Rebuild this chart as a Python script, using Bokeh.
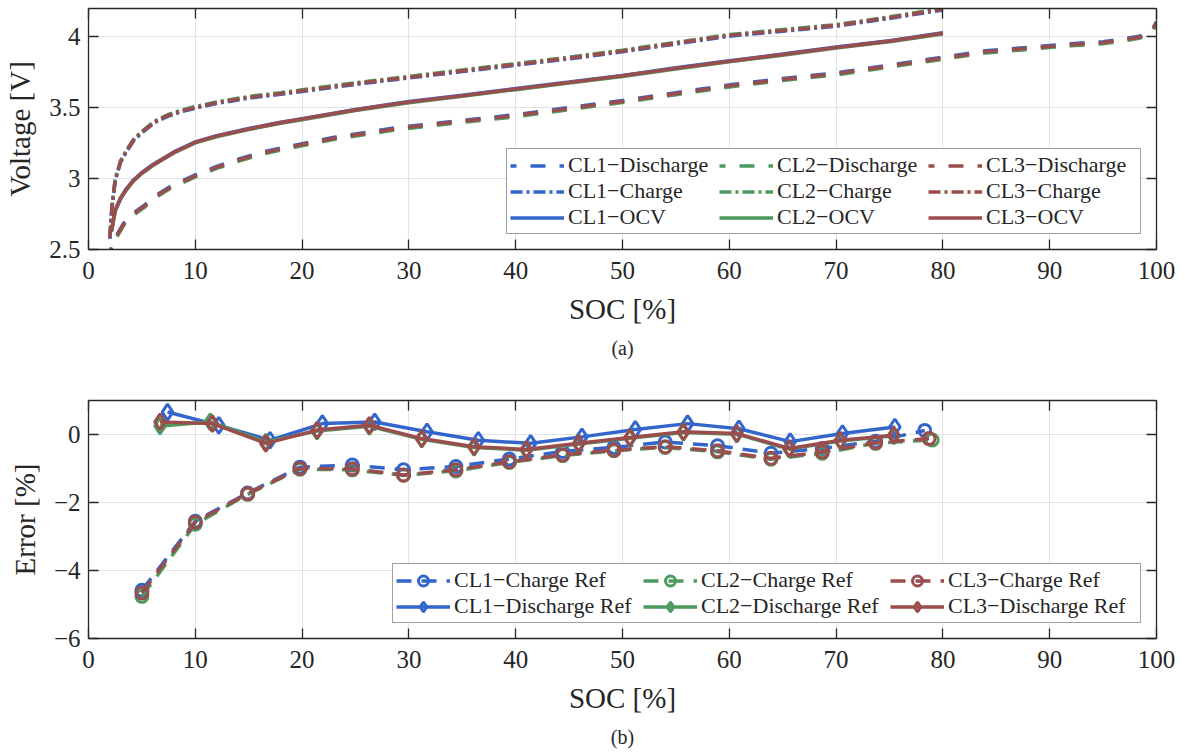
from bokeh.plotting import figure
from bokeh.layouts import column
from bokeh.models import (Range1d, LinearAxis, FixedTicker, CustomJSTickFormatter,
                          Legend, LegendItem, Title)
from bokeh.embed import file_html
from bokeh.resources import INLINE

FONT = "Liberation Serif"
INK = "#262626"
COLORS = {"CL1": "#3366CC", "CL2": "#4E9A5E", "CL3": "#9B4D4D"}
CELLS = ["CL1", "CL2", "CL3"]

# ---------------- (a) voltage curves ----------------
soc_dis = [1.95, 2.6, 3.3, 4.2, 5.3, 6.4, 7.7, 10, 12, 14, 16, 18, 20, 23, 26, 29, 32, 35,
           40, 45, 50, 55, 60, 65, 70, 75, 80, 84, 88, 92, 95, 97, 98.5, 99.3, 99.7, 100]
v_dis = {
    "CL1": [2.476, 2.596, 2.686, 2.756, 2.816, 2.886, 2.946, 3.026, 3.086, 3.136, 3.181, 3.216,
            3.246, 3.291, 3.326, 3.361, 3.386, 3.411, 3.451, 3.501, 3.551, 3.606, 3.661, 3.706,
            3.746, 3.801, 3.856, 3.901, 3.926, 3.951, 3.966, 3.986, 4.006, 4.036, 4.066, 4.106],
    "CL2": [2.462, 2.582, 2.672, 2.742, 2.802, 2.872, 2.932, 3.012, 3.072, 3.122, 3.167, 3.202,
            3.232, 3.277, 3.312, 3.347, 3.372, 3.397, 3.437, 3.487, 3.537, 3.592, 3.647, 3.692,
            3.732, 3.787, 3.842, 3.887, 3.912, 3.937, 3.952, 3.972, 3.992, 4.022, 4.052, 4.092],
    "CL3": [2.47, 2.59, 2.68, 2.75, 2.81, 2.88, 2.94, 3.02, 3.08, 3.13, 3.175, 3.21,
            3.24, 3.285, 3.32, 3.355, 3.38, 3.405, 3.445, 3.495, 3.545, 3.60, 3.655, 3.70,
            3.74, 3.795, 3.85, 3.895, 3.92, 3.945, 3.96, 3.98, 4.00, 4.03, 4.06, 4.10],
}

soc_chg = [2.0, 2.2, 2.5, 3.0, 3.6, 4.3, 5.2, 6.2, 7.4, 8.7, 10, 12, 15, 18, 20, 25, 30, 35,
           40, 45, 50, 55, 60, 65, 70, 75, 80]
v_chg = {
    "CL1": [2.575, 2.795, 2.985, 3.115, 3.195, 3.275, 3.335, 3.395, 3.439, 3.472, 3.497, 3.530,
            3.568, 3.595, 3.615, 3.665, 3.710, 3.755, 3.800, 3.845, 3.895, 3.950, 4.005, 4.040,
            4.075, 4.130, 4.190],
    "CL2": [2.586, 2.806, 2.996, 3.126, 3.206, 3.286, 3.346, 3.406, 3.450, 3.483, 3.508, 3.541,
            3.579, 3.606, 3.626, 3.676, 3.721, 3.766, 3.811, 3.856, 3.906, 3.961, 4.016, 4.051,
            4.086, 4.141, 4.201],
    "CL3": [2.58, 2.80, 2.99, 3.12, 3.20, 3.28, 3.34, 3.40, 3.444, 3.477, 3.502, 3.535,
            3.573, 3.60, 3.62, 3.67, 3.715, 3.76, 3.805, 3.85, 3.90, 3.955, 4.01, 4.045,
            4.08, 4.135, 4.195],
}

soc_ocv = [2.15, 2.5, 3.0, 3.5, 4.2, 5.0, 6.0, 6.7, 8.0, 10, 12, 15, 18, 20, 25, 30, 35,
           40, 45, 50, 55, 60, 65, 70, 75, 80]
v_ocv = {
    "CL1": [2.633, 2.778, 2.863, 2.923, 2.989, 3.043, 3.098, 3.130, 3.188, 3.259, 3.303, 3.353,
            3.398, 3.423, 3.488, 3.543, 3.588, 3.635, 3.681, 3.728, 3.781, 3.831, 3.878, 3.928,
            3.973, 4.028],
    "CL2": [2.626, 2.771, 2.856, 2.916, 2.982, 3.036, 3.091, 3.123, 3.181, 3.252, 3.296, 3.346,
            3.391, 3.416, 3.481, 3.536, 3.581, 3.628, 3.674, 3.721, 3.774, 3.824, 3.871, 3.921,
            3.966, 4.021],
    "CL3": [2.63, 2.775, 2.86, 2.92, 2.986, 3.04, 3.095, 3.127, 3.185, 3.256, 3.30, 3.35,
            3.395, 3.42, 3.485, 3.54, 3.585, 3.632, 3.678, 3.725, 3.778, 3.828, 3.875, 3.925,
            3.97, 4.025],
}

# ---------------- (b) estimation error ----------------
soc_cref = {
    "CL1": [5.0, 10.0, 14.9, 19.8, 24.7, 29.5, 34.4, 39.4, 44.4, 49.2, 54.0, 58.9, 63.9, 68.7, 73.7, 78.3],
    "CL2": [5.0, 10.0, 14.9, 19.8, 24.7, 29.5, 34.4, 39.4, 44.4, 49.2, 54.0, 58.9, 63.9, 68.7, 73.7, 79.0],
    "CL3": [5.0, 10.0, 14.9, 19.8, 24.7, 29.5, 34.4, 39.4, 44.4, 49.2, 54.0, 58.9, 63.9, 68.7, 73.7, 78.7],
}
err_cref = {
    "CL1": [-4.58, -2.55, -1.72, -0.96, -0.90, -1.04, -0.94, -0.72, -0.50, -0.38, -0.22, -0.33,
            -0.55, -0.41, -0.20, 0.12],
    "CL2": [-4.76, -2.64, -1.76, -1.02, -1.04, -1.20, -1.07, -0.82, -0.62, -0.48, -0.38, -0.51,
            -0.73, -0.55, -0.26, -0.16],
    "CL3": [-4.66, -2.58, -1.74, -1.00, -1.01, -1.19, -1.04, -0.80, -0.60, -0.46, -0.36, -0.48,
            -0.70, -0.51, -0.24, -0.12],
}
soc_dref = {
    "CL1": [7.4, 12.2, 17.0, 21.9, 26.8, 31.7, 36.5, 41.4, 46.2, 51.2, 56.1, 60.9, 65.7, 70.6, 75.5],
    "CL2": [6.7, 11.4, 16.6, 21.4, 26.3, 31.2, 36.1, 41.0, 45.9, 50.7, 55.7, 60.7, 65.6, 70.4, 75.4],
    "CL3": [6.7, 11.6, 16.6, 21.4, 26.3, 31.2, 36.1, 41.0, 45.9, 50.7, 55.7, 60.7, 65.6, 70.4, 75.4],
}
err_dref = {
    "CL1": [0.66, 0.27, -0.17, 0.32, 0.37, 0.08, -0.17, -0.26, -0.07, 0.15, 0.32, 0.17, -0.21, 0.03, 0.22],
    "CL2": [0.25, 0.37, -0.22, 0.10, 0.24, -0.14, -0.38, -0.46, -0.28, -0.11, 0.06, 0.01, -0.43, -0.19, -0.04],
    "CL3": [0.37, 0.32, -0.26, 0.13, 0.27, -0.12, -0.36, -0.44, -0.26, -0.09, 0.08, 0.03, -0.41, -0.17, -0.02],
}

x_ticks = [0, 10, 20, 30, 40, 50, 60, 70, 80, 90, 100]
v_ticks = [2.5, 3, 3.5, 4]
e_ticks = [-6, -4, -2, 0]

num_fmt = CustomJSTickFormatter(code="return String(+tick.toFixed(2)).replace('-', '\\u2212');")


def make_fig(height, y_range, border_top, border_bottom, ylabel, yticks, caption):
    p = figure(width=1185, height=height, x_range=Range1d(0, 100), y_range=y_range,
               output_backend="svg", toolbar_location=None,
               min_border_left=88, min_border_right=29,
               min_border_top=border_top, min_border_bottom=border_bottom,
               background_fill_color="white", border_fill_color="white")
    p.outline_line_color = None
    p.xaxis.ticker = FixedTicker(ticks=x_ticks)
    p.yaxis.ticker = FixedTicker(ticks=yticks)
    p.yaxis.formatter = num_fmt
    p.xaxis.formatter = num_fmt
    p.xgrid.ticker = FixedTicker(ticks=x_ticks)
    p.ygrid.ticker = FixedTicker(ticks=yticks)
    for g in (p.xgrid, p.ygrid):
        g.grid_line_color = "#e3e3e3"
        g.grid_line_width = 1
    p.xaxis.axis_label = "SOC [%]"
    p.yaxis.axis_label = ylabel
    p.xaxis.major_label_standoff = 12
    p.yaxis.major_label_standoff = 8
    p.xaxis.axis_label_standoff = 11
    p.yaxis.axis_label_standoff = 10
    for ax in list(p.xaxis) + list(p.yaxis):
        ax.major_tick_in = 10
        ax.major_tick_out = 0
        ax.minor_tick_in = 0
        ax.minor_tick_out = 0
        ax.axis_line_color = INK
        ax.axis_line_width = 1.3
        ax.major_tick_line_color = INK
        ax.major_tick_line_width = 1.3
        ax.major_label_text_font = FONT
        ax.major_label_text_font_size = "25px"
        ax.major_label_text_color = INK
        ax.axis_label_text_font = FONT
        ax.axis_label_text_font_size = "29px"
        ax.axis_label_text_font_style = "normal"
        ax.axis_label_text_color = INK
    # closed box with inward ticks on the top and right edges
    for side, ticks in (("above", x_ticks), ("right", yticks)):
        ax = LinearAxis(ticker=FixedTicker(ticks=ticks), major_label_text_font_size="0px",
                        major_label_standoff=0, major_tick_in=10, major_tick_out=0,
                        minor_tick_in=0, minor_tick_out=0,
                        axis_line_color=INK, axis_line_width=1.3,
                        major_tick_line_color=INK, major_tick_line_width=1.3)
        p.add_layout(ax, side)
    p.add_layout(Title(text=caption, align="center", text_font=FONT, text_font_size="20px",
                       text_font_style="normal", text_color=INK, standoff=14), "below")
    return p


def style_legend(lg, label_width):
    lg.location = "bottom_right"
    lg.margin = 15
    lg.padding = 3
    lg.spacing = 0
    lg.glyph_width = 54
    lg.glyph_height = 25
    lg.label_height = 25
    lg.label_width = label_width
    lg.label_standoff = 4
    lg.label_text_font = FONT
    lg.label_text_font_size = "22px"
    lg.label_text_color = INK
    lg.border_line_color = "#404040"
    lg.border_line_width = 1.2
    lg.background_fill_color = "white"
    lg.background_fill_alpha = 1.0
    lg.orientation = "vertical"
    lg.ncols = 3


# (a)
p1 = make_fig(390, Range1d(2.5, 4.2), 8, 141, "Voltage [V]", v_ticks, "(a)")
items1 = []
for cell in CELLS:
    c = COLORS[cell]
    r_d = p1.line(soc_dis, v_dis[cell], line_color=c, line_width=3.6, line_dash="15 14",
                  line_dash_offset=9)
    r_c = p1.line(soc_chg, v_chg[cell], line_color=c, line_width=3.6, line_dash="12 4 3 4")
    r_o = p1.line(soc_ocv, v_ocv[cell], line_color=c, line_width=3.6)
    items1 += [LegendItem(label=f"{cell}\u2212Discharge", renderers=[r_d]),
               LegendItem(label=f"{cell}\u2212Charge", renderers=[r_c]),
               LegendItem(label=f"{cell}\u2212OCV", renderers=[r_o])]
lg1 = Legend(items=items1)
style_legend(lg1, 151)
p1.add_layout(lg1, "center")

# (b)
p2 = make_fig(364, Range1d(-6, 1), 10, 114, "Error [%]", e_ticks, "(b)")
items2 = []
for cell in CELLS:
    c = COLORS[cell]
    l_c = p2.line(soc_cref[cell], err_cref[cell], line_color=c, line_width=3.5, line_dash="15 10")
    m_c = p2.scatter(soc_cref[cell], err_cref[cell], marker="circle", size=12,
                     line_color=c, line_width=3, fill_color=None)
    l_d = p2.line(soc_dref[cell], err_dref[cell], line_color=c, line_width=3.5)
    m_d = p2.scatter(soc_dref[cell], err_dref[cell], marker="diamond", size=16,
                     line_color=c, line_width=3, fill_color=None)
    items2 += [LegendItem(label=f"{cell}\u2212Charge Ref", renderers=[l_c, m_c]),
               LegendItem(label=f"{cell}\u2212Discharge Ref", renderers=[l_d, m_d])]
lg2 = Legend(items=items2)
style_legend(lg2, 189)
p2.add_layout(lg2, "center")

page = column(p1, p2, spacing=0)
open("out.html", "w").write(file_html(page, INLINE))
